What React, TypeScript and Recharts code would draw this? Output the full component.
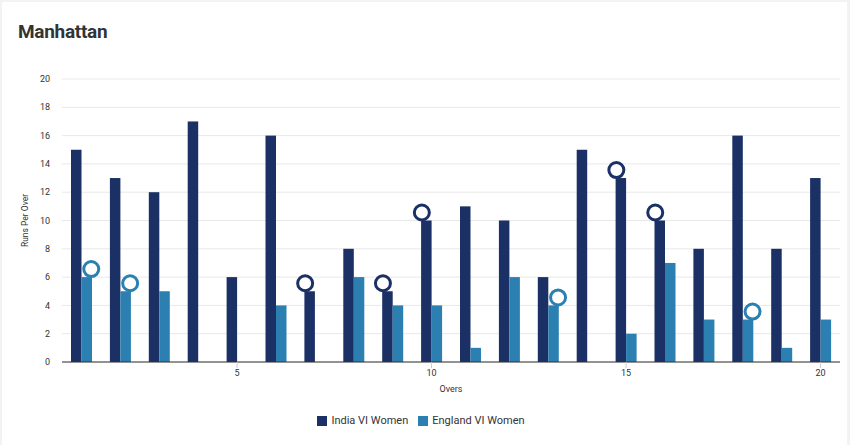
import React from 'react';
import { BarChart, Bar, XAxis, YAxis, CartesianGrid, Legend, Label } from 'recharts';

const overs = [1, 2, 3, 4, 5, 6, 7, 8, 9, 10, 11, 12, 13, 14, 15, 16, 17, 18, 19, 20];
const indiaRuns = [15, 13, 12, 17, 6, 16, 5, 8, 5, 10, 11, 10, 6, 15, 13, 10, 8, 16, 8, 13];
const englandRuns = [6, 5, 5, 0, 0, 4, 0, 6, 4, 4, 1, 6, 4, 0, 2, 7, 3, 3, 1, 3];
const indiaWicketOvers = [7, 9, 10, 15, 16];
const englandWicketOvers = [1, 2, 13, 18];
const yTicks = [0, 2, 4, 6, 8, 10, 12, 14, 16, 18, 20];
const xTicks = [5, 10, 15, 20];
const seriesOrder = ['India VI Women', 'England VI Women'];

const INDIA = '#1b3064';
const ENGLAND = '#2b80b1';

const data = overs.map((o, i) => ({
  over: o,
  india: indiaRuns[i],
  england: englandRuns[i],
  indiaW: indiaWicketOvers.includes(o),
  englandW: englandWicketOvers.includes(o),
}));

const makeShape = (color: string, flagKey: string, dx: number) => (props: any) => {
  const { x, y, width, height, payload } = props;
  const h = Math.max(0, height || 0);
  return (
    <g>
      {h > 0 && <rect x={x} y={y} width={width} height={h} fill={color} />}
      {payload && payload[flagKey] && (
        <circle cx={x + width / 2 + dx} cy={y - 8} r={7.5} fill="#ffffff" stroke={color} strokeWidth={3} />
      )}
    </g>
  );
};

const tickStyle = { fontSize: 9, fill: '#333', fontFamily: 'Roboto' };

export default function App() {
  return (
    <div style={{ position: 'absolute', left: 0, top: 0, width: 850, height: 445, background: '#f3f3f3' }}>
      <div style={{ position: 'absolute', left: 2, top: 2, width: 845, height: 443, background: '#ffffff' }} />
      <div
        style={{
          position: 'absolute',
          left: 18,
          top: 20,
          fontFamily: 'Roboto',
          fontWeight: 700,
          fontSize: 19,
          color: '#333',
          letterSpacing: -0.3,
        }}
      >
        Manhattan
      </div>
      <div style={{ position: 'absolute', left: 0, top: 0 }}>
        <BarChart
          width={850}
          height={445}
          data={data}
          margin={{ top: 79, right: 10, left: 0, bottom: 18 }}
          barGap={0}
          barSize={10.5}
        >
          <CartesianGrid vertical={false} stroke="#e8e8e8" />
          <XAxis
            dataKey="over"
            type="category"
            ticks={xTicks}
            interval={0}
            height={52}
            tick={tickStyle}
            tickLine={{ stroke: '#ccc' }}
            tickSize={6}
            axisLine={{ stroke: '#333' }}
          >
            <Label value="Overs" position="insideTop" offset={24} style={{ fontSize: 9, fill: '#333', fontFamily: 'Roboto' }} />
          </XAxis>
          <YAxis
            domain={[0, 20]}
            ticks={yTicks}
            width={62}
            tick={tickStyle}
            tickLine={false}
            axisLine={false}
            tickMargin={6}
          >
            <Label
              value="Runs Per Over"
              angle={-90}
              position="insideLeft"
              offset={25}
              style={{ fontSize: 8.5, fill: '#333', fontFamily: 'Roboto', textAnchor: 'middle' }}
            />
          </YAxis>
          <Legend
            verticalAlign="bottom"
            iconType="square"
            iconSize={10}
            itemSorter={(item: any) => seriesOrder.indexOf(item.value)}
            wrapperStyle={{ fontFamily: 'Roboto', fontSize: 11, color: '#333', paddingLeft: 6 }}
            formatter={(v: any) => <span style={{ color: '#333' }}>{v}</span>}
          />
          <Bar dataKey="india" name="India VI Women" fill={INDIA} isAnimationActive={false} shape={makeShape(INDIA, 'indiaW', -4.5)} />
          <Bar dataKey="england" name="England VI Women" fill={ENGLAND} isAnimationActive={false} shape={makeShape(ENGLAND, 'englandW', 4.5)} />
        </BarChart>
      </div>
    </div>
  );
}
